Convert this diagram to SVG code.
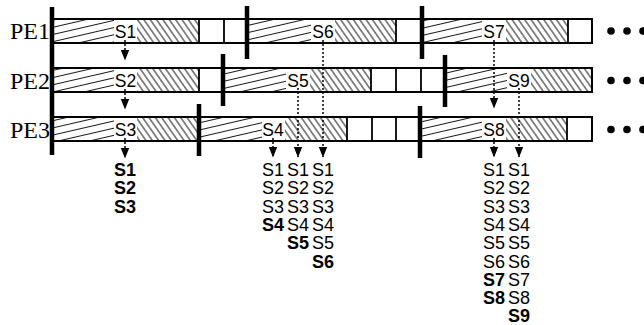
<svg xmlns="http://www.w3.org/2000/svg" width="644" height="325" viewBox="0 0 644 325">
<style>
.pe{font-family:"Liberation Serif","Times New Roman",serif;font-size:24px;fill:#000;text-anchor:end}
.lb{font-family:"Liberation Sans",Arial,sans-serif;font-size:17.5px;fill:#000;text-anchor:middle}
.ls{font-family:"Liberation Sans",Arial,sans-serif;font-size:18px;fill:#000;text-anchor:middle}
.b{font-weight:bold}
.box{fill:#fff;stroke:#000;stroke-width:1.8}
.sep{stroke:#000;stroke-width:1.8}
.thick{stroke:#000;stroke-width:4.5}
.dot{stroke:#000;stroke-width:1.5;stroke-dasharray:2 2;fill:none}
.hl{fill:url(#hl)}
.hr{fill:url(#hr)}
</style>
<defs>
<pattern id="hl" patternUnits="userSpaceOnUse" width="20" height="7" patternTransform="rotate(-13)">
<line x1="-1" y1="3.5" x2="21" y2="3.5" stroke="#000" stroke-width="0.9"/>
</pattern>
<pattern id="hr" patternUnits="userSpaceOnUse" width="5.2" height="20" patternTransform="rotate(-35)">
<line x1="2.6" y1="-1" x2="2.6" y2="21" stroke="#000" stroke-width="0.9"/>
</pattern>
<marker id="ah" markerUnits="userSpaceOnUse" markerWidth="12" markerHeight="10" viewBox="0 -5 11 10" refX="10" refY="0" orient="auto">
<path d="M0,-4.2 L10.5,0 L0,4.2 z" fill="#000"/>
</marker>
</defs>

<g id="row-PE1">
<text class="pe" x="50" y="39">PE1</text>
<rect class="box" x="52" y="19" width="540" height="24"/>
<rect class="hl" x="52" y="19" width="62" height="24"/>
<rect class="hr" x="137" y="19" width="62" height="24"/>
<rect class="hl" x="247" y="19" width="64" height="24"/>
<rect class="hr" x="335" y="19" width="61" height="24"/>
<rect class="hl" x="422" y="19" width="60" height="24"/>
<rect class="hr" x="506" y="19" width="62" height="24"/>
<line class="sep" x1="199" y1="19" x2="199" y2="43"/>
<line class="sep" x1="224" y1="19" x2="224" y2="43"/>
<line class="sep" x1="396" y1="19" x2="396" y2="43"/>
<line class="sep" x1="568" y1="19" x2="568" y2="43"/>
<rect x="52" y="19" width="540" height="24" fill="none" stroke="#000" stroke-width="1.8"/>
<text class="lb" x="125.5" y="37.5">S1</text>
<text class="lb" x="323" y="37.5">S6</text>
<text class="lb" x="494" y="37.5">S7</text>
<line class="thick" x1="247" y1="6" x2="247" y2="59"/>
<line class="thick" x1="422" y1="6" x2="422" y2="59"/>
<circle cx="611" cy="31" r="3.8"/><circle cx="627" cy="31" r="3.8"/><circle cx="643" cy="31" r="3.8"/>
</g>

<g id="row-PE2">
<text class="pe" x="50" y="89">PE2</text>
<rect class="box" x="52" y="68" width="540" height="24"/>
<rect class="hl" x="52" y="68" width="62" height="24"/>
<rect class="hr" x="137" y="68" width="62" height="24"/>
<rect class="hl" x="223" y="68" width="63" height="24"/>
<rect class="hr" x="310" y="68" width="61" height="24"/>
<rect class="hl" x="445" y="68" width="62" height="24"/>
<rect class="hr" x="531" y="68" width="61" height="24"/>
<line class="sep" x1="199" y1="68" x2="199" y2="92"/>
<line class="sep" x1="371" y1="68" x2="371" y2="92"/>
<line class="sep" x1="396" y1="68" x2="396" y2="92"/>
<line class="sep" x1="421" y1="68" x2="421" y2="92"/>
<rect x="52" y="68" width="540" height="24" fill="none" stroke="#000" stroke-width="1.8"/>
<text class="lb" x="125.5" y="86.5">S2</text>
<text class="lb" x="298" y="86.5">S5</text>
<text class="lb" x="519" y="86.5">S9</text>
<line class="thick" x1="223" y1="54" x2="223" y2="106"/>
<line class="thick" x1="445" y1="55" x2="445" y2="107"/>
<circle cx="611" cy="80.5" r="3.8"/><circle cx="627" cy="80.5" r="3.8"/><circle cx="643" cy="80.5" r="3.8"/>
</g>

<g id="row-PE3">
<text class="pe" x="50" y="138">PE3</text>
<rect class="box" x="52" y="117" width="540" height="24"/>
<rect class="hl" x="52" y="117" width="62" height="24"/>
<rect class="hr" x="137" y="117" width="62" height="24"/>
<rect class="hl" x="199" y="117" width="63" height="24"/>
<rect class="hr" x="285" y="117" width="62" height="24"/>
<rect class="hl" x="420" y="117" width="62" height="24"/>
<rect class="hr" x="506" y="117" width="61" height="24"/>
<line class="sep" x1="347" y1="117" x2="347" y2="141"/>
<line class="sep" x1="372" y1="117" x2="372" y2="141"/>
<line class="sep" x1="396" y1="117" x2="396" y2="141"/>
<line class="sep" x1="567" y1="117" x2="567" y2="141"/>
<rect x="52" y="117" width="540" height="24" fill="none" stroke="#000" stroke-width="1.8"/>
<text class="lb" x="125.5" y="135.5">S3</text>
<text class="lb" x="273" y="135.5">S4</text>
<text class="lb" x="494" y="135.5">S8</text>
<line class="thick" x1="199" y1="104" x2="199" y2="156"/>
<line class="thick" x1="420" y1="106" x2="420" y2="158"/>
<circle cx="611" cy="129.5" r="3.8"/><circle cx="627" cy="129.5" r="3.8"/><circle cx="643" cy="129.5" r="3.8"/>
</g>

<g id="time-axis">
<line class="thick" x1="52" y1="7" x2="52" y2="155" stroke-width="4"/>
</g>

<g id="connectors">
<line class="dot" x1="125" y1="40" x2="125" y2="60" marker-end="url(#ah)"/>
<line class="dot" x1="125" y1="89" x2="125" y2="109" marker-end="url(#ah)"/>
<line class="dot" x1="125" y1="138" x2="125" y2="158" marker-end="url(#ah)"/>
<line class="dot" x1="273" y1="138" x2="273" y2="157" marker-end="url(#ah)"/>
<line class="dot" x1="298" y1="88" x2="298" y2="157" marker-end="url(#ah)"/>
<line class="dot" x1="323" y1="40" x2="323" y2="157" marker-end="url(#ah)"/>
<line class="dot" x1="494" y1="40" x2="494" y2="108" marker-end="url(#ah)"/>
<line class="dot" x1="494" y1="138" x2="494" y2="157" marker-end="url(#ah)"/>
<line class="dot" x1="519" y1="88" x2="519" y2="157" marker-end="url(#ah)"/>
</g>

<g id="list-1">
<text class="ls b" x="125" y="176">S1</text>
<text class="ls b" x="125" y="194.3">S2</text>
<text class="ls b" x="125" y="212.6">S3</text>
</g>
<g id="list-4">
<text class="ls" x="273" y="176">S1</text>
<text class="ls" x="273" y="194.3">S2</text>
<text class="ls" x="273" y="212.6">S3</text>
<text class="ls b" x="273" y="230.9">S4</text>
</g>
<g id="list-5">
<text class="ls" x="298" y="176">S1</text>
<text class="ls" x="298" y="194.3">S2</text>
<text class="ls" x="298" y="212.6">S3</text>
<text class="ls" x="298" y="230.9">S4</text>
<text class="ls b" x="298" y="249.2">S5</text>
</g>
<g id="list-6">
<text class="ls" x="323" y="176">S1</text>
<text class="ls" x="323" y="194.3">S2</text>
<text class="ls" x="323" y="212.6">S3</text>
<text class="ls" x="323" y="230.9">S4</text>
<text class="ls" x="323" y="249.2">S5</text>
<text class="ls b" x="323" y="267.5">S6</text>
</g>
<g id="list-8">
<text class="ls" x="494" y="176">S1</text>
<text class="ls" x="494" y="194.3">S2</text>
<text class="ls" x="494" y="212.6">S3</text>
<text class="ls" x="494" y="230.9">S4</text>
<text class="ls" x="494" y="249.2">S5</text>
<text class="ls" x="494" y="267.5">S6</text>
<text class="ls b" x="494" y="285.8">S7</text>
<text class="ls b" x="494" y="304.1">S8</text>
</g>
<g id="list-9">
<text class="ls" x="519" y="176">S1</text>
<text class="ls" x="519" y="194.3">S2</text>
<text class="ls" x="519" y="212.6">S3</text>
<text class="ls" x="519" y="230.9">S4</text>
<text class="ls" x="519" y="249.2">S5</text>
<text class="ls" x="519" y="267.5">S6</text>
<text class="ls" x="519" y="285.8">S7</text>
<text class="ls" x="519" y="304.1">S8</text>
<text class="ls b" x="519" y="322.4">S9</text>
</g>
</svg>
